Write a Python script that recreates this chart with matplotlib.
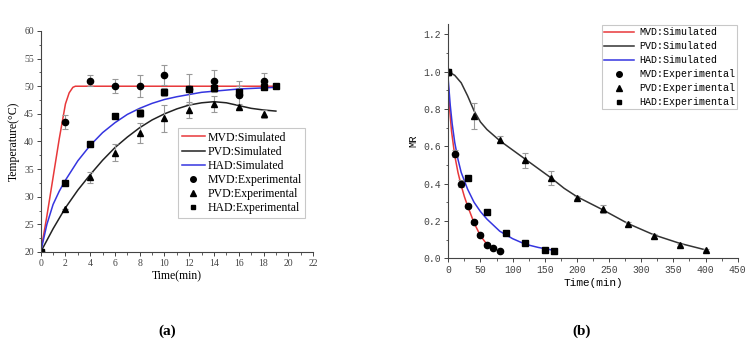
import matplotlib
matplotlib.use("Agg")
import matplotlib.pyplot as plt
from matplotlib.ticker import MultipleLocator
from matplotlib.lines import Line2D

# ---------------- (a) temperature ----------------
t_exp = [0, 2, 4, 6, 8, 10, 12, 14, 16, 18]
mvd_T = [20, 43.5, 51, 50, 50, 52, 49.5, 51, 48.5, 51]
mvd_T_err = [0, 1.3, 1.0, 1.3, 2.0, 1.8, 2.7, 2.0, 2.4, 1.4]
pvd_T = [20, 27.7, 33.5, 38, 41.5, 44.2, 45.7, 46.8, 46.2, 45.0]
pvd_T_err = [0, 0, 1.0, 1.6, 1.8, 2.4, 1.5, 1.5, 0.5, 0.7]
had_t = [0, 2, 4, 6, 8, 10, 12, 14, 16, 18, 19]
had_T = [20, 32.5, 39.5, 44.7, 45.2, 49.0, 49.5, 49.6, 49.0, 49.8, 50.0]
had_T_err = [0, 0, 0.5, 0, 0.7, 0.7, 0, 0, 1.0, 0.5, 0]

mvd_sim_t = [0, 0.5, 1.0, 1.5, 2.0, 2.3, 2.6, 2.8, 3.0, 19]
mvd_sim_T = [20, 26.5, 33.5, 40.5, 46.8, 48.8, 49.8, 50.0, 50.0, 50.0]
pvd_sim_t = [0, 1, 2, 3, 4, 5, 6, 7, 8, 9, 10, 11, 12, 13, 14, 15, 16, 17, 18, 19]
pvd_sim_T = [20, 24.2, 28.0, 31.2, 34.0, 36.6, 38.9, 40.8, 42.5, 43.9, 45.0,
             45.9, 46.6, 47.0, 47.2, 47.0, 46.5, 46.0, 45.7, 45.5]
had_sim_t = [0, 0.5, 1, 1.5, 2, 3, 4, 5, 6, 7, 8, 9, 10, 11, 12, 13, 14, 15, 16, 17, 18, 19]
had_sim_T = [20, 25.0, 28.6, 31.0, 33.0, 36.5, 39.3, 41.6, 43.4, 44.9, 46.0, 46.9,
             47.6, 48.1, 48.5, 48.9, 49.1, 49.3, 49.5, 49.6, 49.7, 49.8]

# ---------------- (b) moisture ratio ----------------
mvd_t = [0, 10, 20, 30, 40, 50, 60, 70, 80]
mvd_MR = [1.0, 0.56, 0.40, 0.28, 0.195, 0.125, 0.07, 0.055, 0.04]
mvd_MR_err = [0, 0.02, 0.02, 0.01, 0.01, 0.01, 0.01, 0.005, 0.005]
pvd_t = [0, 40, 80, 120, 160, 200, 240, 280, 320, 360, 400]
pvd_MR = [1.0, 0.76, 0.635, 0.525, 0.43, 0.325, 0.265, 0.185, 0.12, 0.07, 0.045]
pvd_MR_err = [0, 0.07, 0.02, 0.04, 0.04, 0.01, 0.02, 0.01, 0.01, 0.005, 0.005]
had_t2 = [0, 30, 60, 90, 120, 150, 165]
had_MR = [1.0, 0.43, 0.25, 0.135, 0.08, 0.045, 0.04]

mvd_sim_t2 = [0, 2, 5, 10, 15, 20, 25, 30, 40, 50, 60, 65]
mvd_sim_MR = [0.92, 0.8, 0.68, 0.55, 0.46, 0.39, 0.33, 0.28, 0.19, 0.12, 0.075, 0.06]
pvd_sim_t2 = [0, 10, 20, 30, 40, 50, 60, 80, 100, 120, 140, 160, 180, 200,
              240, 280, 320, 360, 400]
pvd_sim_MR = [1.0, 0.98, 0.94, 0.87, 0.79, 0.73, 0.69, 0.63, 0.58, 0.53, 0.48,
              0.43, 0.375, 0.33, 0.26, 0.185, 0.125, 0.08, 0.045]
had_sim_t2 = [0, 3, 6, 10, 15, 20, 30, 40, 50, 60, 80, 100, 120, 140, 160]
had_sim_MR = [0.95, 0.82, 0.72, 0.62, 0.53, 0.46, 0.37, 0.30, 0.25, 0.21, 0.145,
              0.105, 0.075, 0.058, 0.045]

labels = ["MVD:Simulated", "PVD:Simulated", "HAD:Simulated",
          "MVD:Experimental", "PVD:Experimental", "HAD:Experimental"]

fig = plt.figure(figsize=(7.55, 3.48), dpi=100)

serif = ["Liberation Serif", "DejaVu Serif"]
mono = ["Liberation Mono", "DejaVu Sans Mono"]
ecol = "#999999"
tcol = "#444444"
red, blk, blu = "#e8383a", "#222222", "#3535e0"


def handles(linecol):
    return [Line2D([], [], color=red, lw=1.1),
            Line2D([], [], color=linecol, lw=1.1),
            Line2D([], [], color=blu, lw=1.1),
            Line2D([], [], color="black", marker="o", ms=4, ls="none"),
            Line2D([], [], color="black", marker="^", ms=4, ls="none"),
            Line2D([], [], color="black", marker="s", ms=3.5, ls="none")]


ekw = dict(ecolor=ecol, elinewidth=0.8, capsize=2, capthick=0.8, ms=4.5, color="black", ls="none")

# ---- (a)
ax1 = fig.add_axes([0.0539, 0.2759, 0.3607, 0.6351])
ax1.plot(mvd_sim_t, mvd_sim_T, color=red, lw=1.1)
ax1.plot(pvd_sim_t, pvd_sim_T, color=blk, lw=1.1)
ax1.plot(had_sim_t, had_sim_T, color=blu, lw=1.1)
ax1.errorbar(t_exp, mvd_T, yerr=mvd_T_err, marker="o", **ekw)
ax1.errorbar(t_exp, pvd_T, yerr=pvd_T_err, marker="^", **ekw)
ax1.errorbar(had_t, had_T, yerr=had_T_err, marker="s", **dict(ekw, ms=4))
ax1.set_xlim(0, 22)
ax1.set_ylim(20, 60)
ax1.xaxis.set_major_locator(MultipleLocator(2))
ax1.xaxis.set_minor_locator(MultipleLocator(1))
ax1.yaxis.set_major_locator(MultipleLocator(5))
ax1.yaxis.set_minor_locator(MultipleLocator(2.5))
ax1.set_xlabel("Time(min)", fontfamily=serif, fontsize=8.5, labelpad=2)
ax1.set_ylabel("Temperature(°C)", fontfamily=serif, fontsize=8.5, labelpad=3)
leg1 = ax1.legend(handles(blk), labels, loc="upper left",
                  bbox_to_anchor=(178 / 755, 1 - 128 / 348),
                  bbox_transform=fig.transFigure, prop={"family": serif, "size": 8.5},
                  frameon=True, fancybox=False, edgecolor="#bbbbbb", handlelength=2.0,
                  handletextpad=0.2, borderpad=0.3, labelspacing=0.18, borderaxespad=0)
leg1.get_frame().set_linewidth(0.8)

# ---- (b)
ax2 = fig.add_axes([0.5938, 0.2578, 0.3833, 0.6733])
ax2.plot(mvd_sim_t2, mvd_sim_MR, color=red, lw=1.1)
ax2.plot(pvd_sim_t2, pvd_sim_MR, color="#333333", lw=1.1)
ax2.plot(had_sim_t2, had_sim_MR, color=blu, lw=1.1)
ax2.errorbar(mvd_t, mvd_MR, yerr=mvd_MR_err, marker="o", **ekw)
ax2.errorbar(pvd_t, pvd_MR, yerr=pvd_MR_err, marker="^", **ekw)
ax2.errorbar(had_t2, had_MR, marker="s", **dict(ekw, ms=4))
ax2.set_xlim(0, 450)
ax2.set_ylim(0, 1.255)
ax2.xaxis.set_major_locator(MultipleLocator(50))
ax2.xaxis.set_minor_locator(MultipleLocator(25))
ax2.yaxis.set_minor_locator(MultipleLocator(0.1))
ax2.set_yticks([0, 0.2, 0.4, 0.6, 0.8, 1.0, 1.2])
ax2.set_yticklabels(["0.0", "0.2", "0.4", "0.6", "0.8", "1.0", "1.2"])
ax2.set_xlabel("Time(min)", fontfamily=mono, fontsize=8, labelpad=2)
ax2.set_ylabel("MR", fontfamily=mono, fontsize=7.5, labelpad=4)
leg2 = ax2.legend(handles("#333333"), labels, loc="upper right",
                  bbox_to_anchor=(737 / 755, 1 - 25 / 348),
                  bbox_transform=fig.transFigure, prop={"family": mono, "size": 7.2},
                  frameon=True, fancybox=False, edgecolor="#bbbbbb", handlelength=3.0,
                  handletextpad=0.5, borderpad=0.2, labelspacing=0.4, borderaxespad=0)
leg2.get_frame().set_linewidth(0.8)

for ax, fam in ((ax1, serif), (ax2, mono)):
    for s in ("top", "right"):
        ax.spines[s].set_visible(False)
    for s in ("left", "bottom"):
        ax.spines[s].set_color(tcol)
        ax.spines[s].set_linewidth(0.8)
    ax.tick_params(which="major", direction="out", length=3, width=0.7, color=tcol,
                   labelsize=7, labelcolor=tcol, pad=2)
    ax.tick_params(which="minor", direction="out", length=1.8, width=0.6, color=tcol)
    for lab in ax.get_xticklabels() + ax.get_yticklabels():
        lab.set_fontfamily(fam)

fig.text(167 / 755, 1 - 331 / 348, "(a)", ha="center", va="center",
         fontfamily=serif, fontsize=11, fontweight="bold")
fig.text(582 / 755, 1 - 331 / 348, "(b)", ha="center", va="center",
         fontfamily=serif, fontsize=11, fontweight="bold")

fig.savefig("out.png", dpi=100)
